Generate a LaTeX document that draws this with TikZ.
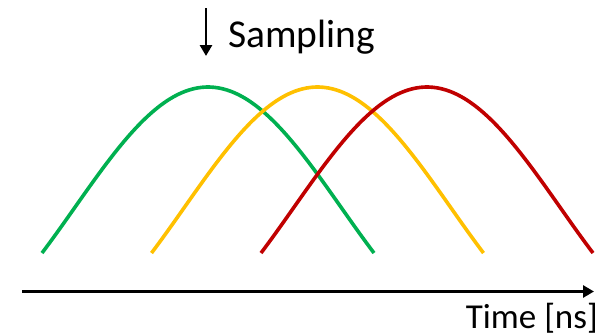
\documentclass[tikz,border=0pt]{standalone}
\usepackage{fontspec}
\setmainfont{Carlito}
\usetikzlibrary{arrows.meta}
\definecolor{cgreen}{HTML}{00B050}
\definecolor{cyellow}{HTML}{FFC000}
\definecolor{cred}{HTML}{C00000}
\begin{document}
\begin{tikzpicture}[x=1pt,y=-1pt,
  pulse/.style={line width=3.6pt},
  axisline/.style={line width=2.7pt,-{Triangle[length=11pt,width=12pt]}},
  txt/.style={inner sep=0pt,font=\fontsize{36}{40}\selectfont}]
\useasboundingbox (0,0) rectangle (608,335);
\draw[pulse,cgreen] plot[variable=\t,domain=-112:112,samples=80,smooth]
    ({208+1.48214*\t},{87+120.763*(1-cos(\t))});
\draw[pulse,cyellow] plot[variable=\t,domain=-112:112,samples=80,smooth]
    ({317.5+1.48214*\t},{87+120.763*(1-cos(\t))});
\draw[pulse,cred] plot[variable=\t,domain=-112:112,samples=80,smooth]
    ({427+1.48214*\t},{87+120.763*(1-cos(\t))});
\coordinate (axstart) at (22,291.5);
\coordinate (axend) at (594,291.5);
\draw[axisline] (axstart) -- (axend);
\coordinate (sampstart) at (206,8);
\coordinate (sampend) at (206,56);
\draw[axisline] (sampstart) -- (sampend);
\node[txt,anchor=base west,font=\fontsize{39.5}{44}\selectfont] (samp) at (228,47) {Sampling};
\node[txt,anchor=base east,font=\fontsize{35}{40}\selectfont] (time) at (598,328.5) {Time [ns]};
\end{tikzpicture}
\end{document}
